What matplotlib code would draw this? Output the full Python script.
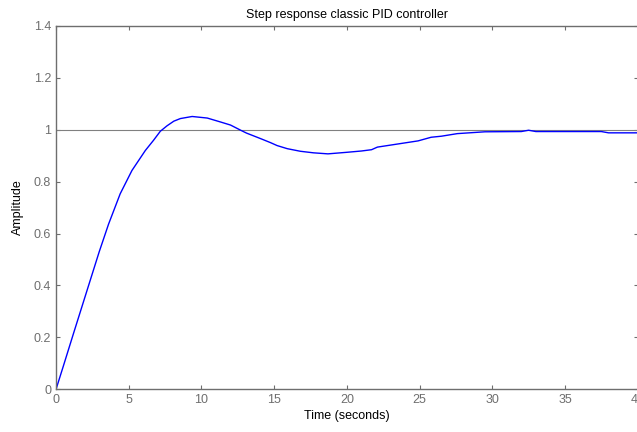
import numpy as np
import matplotlib.pyplot as plt

plt.rcParams['font.family'] = ['Liberation Sans', 'DejaVu Sans']

# Step response samples
t = [0, 0.5, 1.2, 2.34, 2.97, 3.61, 4.41, 5.22, 6.14, 6.7, 7.17, 7.63, 8.1,
     8.55, 9.36, 10.4, 11.3, 12.0, 12.7, 13.1, 13.6, 14.1, 14.76, 15.2, 15.9,
     16.8, 17.7, 18.7, 20.0, 21.0, 21.7, 22.1, 24.9, 25.8, 26.5, 27.6, 29.5,
     32.0, 32.5, 33.0, 37.5, 38.0, 40.0]
y = [0, 0.089, 0.215, 0.418, 0.530, 0.636, 0.753, 0.843, 0.920, 0.959, 0.994,
     1.015, 1.033, 1.043, 1.051, 1.045, 1.030, 1.018, 0.998, 0.987, 0.976,
     0.965, 0.950, 0.939, 0.927, 0.917, 0.911, 0.907, 0.913, 0.918, 0.923,
     0.933, 0.957, 0.971, 0.975, 0.985, 0.992, 0.993, 0.998, 0.993, 0.993,
     0.988, 0.988]

xticks = [0, 5, 10, 15, 20, 25, 30, 35, 40]
yticks = [0, 0.2, 0.4, 0.6, 0.8, 1, 1.2, 1.4]
ytick_labels = ['0', '0.2', '0.4', '0.6', '0.8', '1', '1.2', '1.4']

fig = plt.figure(figsize=(6.37, 4.32), dpi=100)
ax = fig.add_axes([0.088, 0.099, 0.913, 0.841])

ax.axhline(1.0, color='#808080', lw=0.8)
ax.plot(t, y, color='blue', lw=1.0)

ax.set_xlim(0, 40)
ax.set_ylim(0, 1.4)
ax.set_xticks(xticks)
ax.set_xticklabels([str(v) for v in xticks])
ax.set_yticks(yticks)
ax.set_yticklabels(ytick_labels)

grey = '#6e6e6e'
for s in ax.spines.values():
    s.set_color(grey)
    s.set_linewidth(1.0)
ax.tick_params(direction='in', top=True, right=True, length=3, width=0.8,
               colors=grey, labelsize=9, labelcolor=grey)

ax.set_title('Step response classic PID controller', fontsize=9, pad=6)
ax.set_xlabel('Time (seconds)', fontsize=9, labelpad=3)
ax.set_ylabel('Amplitude', fontsize=9, labelpad=7)

fig.savefig('out.png', dpi=100)
